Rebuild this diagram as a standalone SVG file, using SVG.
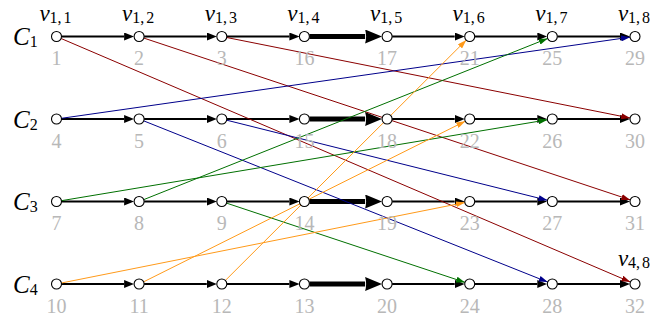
<svg xmlns="http://www.w3.org/2000/svg" width="652" height="322" viewBox="0 0 652 322">
<style>
.nd{fill:#fff;stroke:#000;stroke-width:1.1}
.num{font-family:"Liberation Serif",serif;font-size:20px;fill:#b8b8b8;text-anchor:middle}
.vl{font-family:"Liberation Serif",serif;font-size:23px;font-style:italic;fill:#000;text-anchor:middle}
.sub{font-style:normal;font-size:16px}
.cl{font-family:"Liberation Serif",serif;font-size:25px;font-style:italic;fill:#000}
.bk{stroke:#000;stroke-width:1.8;fill:none;marker-end:url(#ah)}
.tk{stroke:#000;stroke-width:5;fill:none;marker-end:url(#ath)}
.r{stroke:#8b0000;stroke-width:1;fill:none;marker-end:url(#ar)}
.b{stroke:#00008b;stroke-width:1;fill:none;marker-end:url(#ab)}
.g{stroke:#007000;stroke-width:1;fill:none;marker-end:url(#ag)}
.o{stroke:#ff9a1a;stroke-width:1;fill:none;marker-end:url(#ao)}
</style>
<defs>
<marker id="ah" markerUnits="userSpaceOnUse" markerWidth="10" markerHeight="8" refX="0" refY="4" orient="auto"><path d="M0,0 L10,4 L0,8 z" fill="#000"/></marker>
<marker id="ath" markerUnits="userSpaceOnUse" markerWidth="17" markerHeight="14" refX="0" refY="7" orient="auto"><path d="M0,0 L17,7 L0,14 Q2,7 0,0 z" fill="#000"/></marker>
<marker id="ar" markerUnits="userSpaceOnUse" markerWidth="9" markerHeight="6" refX="9" refY="3" orient="auto"><path d="M0,0 L9,3 L0,6 z" fill="#8b0000"/></marker>
<marker id="ab" markerUnits="userSpaceOnUse" markerWidth="9" markerHeight="6" refX="9" refY="3" orient="auto"><path d="M0,0 L9,3 L0,6 z" fill="#00008b"/></marker>
<marker id="ag" markerUnits="userSpaceOnUse" markerWidth="9" markerHeight="6" refX="9" refY="3" orient="auto"><path d="M0,0 L9,3 L0,6 z" fill="#007000"/></marker>
<marker id="ao" markerUnits="userSpaceOnUse" markerWidth="9" markerHeight="6" refX="9" refY="3" orient="auto"><path d="M0,0 L9,3 L0,6 z" fill="#ff9a1a"/></marker>
</defs>

<g id="chain-labels">
<text class="cl" x="13" y="45">C<tspan class="sub" font-size="17" dy="2">1</tspan></text>
<text class="cl" x="13" y="127.5">C<tspan class="sub" font-size="17" dy="2">2</tspan></text>
<text class="cl" x="13" y="210">C<tspan class="sub" font-size="17" dy="2">3</tspan></text>
<text class="cl" x="13" y="292.5">C<tspan class="sub" font-size="17" dy="2">4</tspan></text>
</g>

<g id="connectors">
<!-- row 1 -->
<line class="bk" x1="61.5" y1="36.5" x2="124.1" y2="36.5"/>
<line class="bk" x1="144.1" y1="36.5" x2="206.8" y2="36.5"/>
<line class="bk" x1="226.8" y1="36.5" x2="289.4" y2="36.5"/>
<line class="tk" x1="309.4" y1="36.5" x2="365.1" y2="36.5"/>
<line class="bk" x1="392.1" y1="36.5" x2="454.7" y2="36.5"/>
<line class="bk" x1="474.7" y1="36.5" x2="537.3" y2="36.5"/>
<line class="bk" x1="557.3" y1="36.5" x2="620.0" y2="36.5"/>
<!-- row 2 -->
<line class="bk" x1="61.5" y1="119" x2="124.1" y2="119"/>
<line class="bk" x1="144.1" y1="119" x2="206.8" y2="119"/>
<line class="bk" x1="226.8" y1="119" x2="289.4" y2="119"/>
<line class="tk" x1="309.4" y1="119" x2="365.1" y2="119"/>
<line class="bk" x1="392.1" y1="119" x2="454.7" y2="119"/>
<line class="bk" x1="474.7" y1="119" x2="537.3" y2="119"/>
<line class="bk" x1="557.3" y1="119" x2="620.0" y2="119"/>
<!-- row 3 -->
<line class="bk" x1="61.5" y1="201.5" x2="124.1" y2="201.5"/>
<line class="bk" x1="144.1" y1="201.5" x2="206.8" y2="201.5"/>
<line class="bk" x1="226.8" y1="201.5" x2="289.4" y2="201.5"/>
<line class="tk" x1="309.4" y1="201.5" x2="365.1" y2="201.5"/>
<line class="bk" x1="392.1" y1="201.5" x2="454.7" y2="201.5"/>
<line class="bk" x1="474.7" y1="201.5" x2="537.3" y2="201.5"/>
<line class="bk" x1="557.3" y1="201.5" x2="620.0" y2="201.5"/>
<!-- row 4 -->
<line class="bk" x1="61.5" y1="284" x2="124.1" y2="284"/>
<line class="bk" x1="144.1" y1="284" x2="206.8" y2="284"/>
<line class="bk" x1="226.8" y1="284" x2="289.4" y2="284"/>
<line class="tk" x1="309.4" y1="284" x2="365.1" y2="284"/>
<line class="bk" x1="392.1" y1="284" x2="454.7" y2="284"/>
<line class="bk" x1="474.7" y1="284" x2="537.3" y2="284"/>
<line class="bk" x1="557.3" y1="284" x2="620.0" y2="284"/>
<!-- cross edges -->
<line class="r" x1="61.1" y1="38.5" x2="630.4" y2="282.0"/>
<line class="r" x1="143.9" y1="38.1" x2="630.3" y2="199.9"/>
<line class="r" x1="226.7" y1="37.5" x2="630.1" y2="118.0"/>
<line class="b" x1="61.5" y1="118.3" x2="630.0" y2="37.2"/>
<line class="b" x1="143.8" y1="120.9" x2="547.8" y2="282.1"/>
<line class="b" x1="226.7" y1="120.2" x2="547.5" y2="200.3"/>
<line class="g" x1="61.4" y1="200.7" x2="547.5" y2="119.8"/>
<line class="g" x1="143.8" y1="199.6" x2="547.8" y2="38.4"/>
<line class="g" x1="226.5" y1="203.1" x2="465.1" y2="282.4"/>
<line class="o" x1="61.4" y1="283.0" x2="464.9" y2="202.5"/>
<line class="o" x1="143.7" y1="281.8" x2="465.3" y2="121.2"/>
<line class="o" x1="225.3" y1="280.5" x2="466.3" y2="40.0"/>
</g>

<!-- row 1 nodes -->
<g id="n1"><circle class="nd" cx="56.5" cy="36.5" r="5"/><text class="num" x="56.5" y="65">1</text><text class="vl" x="55.5" y="21">v<tspan class="sub" dy="2">1,<tspan dx="2">1</tspan></tspan></text></g>
<g id="n2"><circle class="nd" cx="139.1" cy="36.5" r="5"/><text class="num" x="139.1" y="65">2</text><text class="vl" x="138.1" y="21">v<tspan class="sub" dy="2">1,<tspan dx="2">2</tspan></tspan></text></g>
<g id="n3"><circle class="nd" cx="221.8" cy="36.5" r="5"/><text class="num" x="221.8" y="65">3</text><text class="vl" x="220.8" y="21">v<tspan class="sub" dy="2">1,<tspan dx="2">3</tspan></tspan></text></g>
<g id="n16"><circle class="nd" cx="304.4" cy="36.5" r="5"/><text class="num" x="304.4" y="65">16</text><text class="vl" x="303.4" y="21">v<tspan class="sub" dy="2">1,<tspan dx="2">4</tspan></tspan></text></g>
<g id="n17"><circle class="nd" cx="387.1" cy="36.5" r="5"/><text class="num" x="387.1" y="65">17</text><text class="vl" x="386.1" y="21">v<tspan class="sub" dy="2">1,<tspan dx="2">5</tspan></tspan></text></g>
<g id="n21"><circle class="nd" cx="469.7" cy="36.5" r="5"/><text class="num" x="469.7" y="65">21</text><text class="vl" x="468.7" y="21">v<tspan class="sub" dy="2">1,<tspan dx="2">6</tspan></tspan></text></g>
<g id="n25"><circle class="nd" cx="552.3" cy="36.5" r="5"/><text class="num" x="552.3" y="65">25</text><text class="vl" x="551.3" y="21">v<tspan class="sub" dy="2">1,<tspan dx="2">7</tspan></tspan></text></g>
<g id="n29"><circle class="nd" cx="635" cy="36.5" r="5"/><text class="num" x="635" y="65">29</text><text class="vl" x="634" y="21">v<tspan class="sub" dy="2">1,<tspan dx="2">8</tspan></tspan></text></g>
<!-- row 2 nodes -->
<g id="n4"><circle class="nd" cx="56.5" cy="119" r="5"/><text class="num" x="56.5" y="147.5">4</text></g>
<g id="n5"><circle class="nd" cx="139.1" cy="119" r="5"/><text class="num" x="139.1" y="147.5">5</text></g>
<g id="n6"><circle class="nd" cx="221.8" cy="119" r="5"/><text class="num" x="221.8" y="147.5">6</text></g>
<g id="n15"><circle class="nd" cx="304.4" cy="119" r="5"/><text class="num" x="304.4" y="147.5">15</text></g>
<g id="n18"><circle class="nd" cx="387.1" cy="119" r="5"/><text class="num" x="387.1" y="147.5">18</text></g>
<g id="n22"><circle class="nd" cx="469.7" cy="119" r="5"/><text class="num" x="469.7" y="147.5">22</text></g>
<g id="n26"><circle class="nd" cx="552.3" cy="119" r="5"/><text class="num" x="552.3" y="147.5">26</text></g>
<g id="n30"><circle class="nd" cx="635" cy="119" r="5"/><text class="num" x="635" y="147.5">30</text></g>
<!-- row 3 nodes -->
<g id="n7"><circle class="nd" cx="56.5" cy="201.5" r="5"/><text class="num" x="56.5" y="230">7</text></g>
<g id="n8"><circle class="nd" cx="139.1" cy="201.5" r="5"/><text class="num" x="139.1" y="230">8</text></g>
<g id="n9"><circle class="nd" cx="221.8" cy="201.5" r="5"/><text class="num" x="221.8" y="230">9</text></g>
<g id="n14"><circle class="nd" cx="304.4" cy="201.5" r="5"/><text class="num" x="304.4" y="230">14</text></g>
<g id="n19"><circle class="nd" cx="387.1" cy="201.5" r="5"/><text class="num" x="387.1" y="230">19</text></g>
<g id="n23"><circle class="nd" cx="469.7" cy="201.5" r="5"/><text class="num" x="469.7" y="230">23</text></g>
<g id="n27"><circle class="nd" cx="552.3" cy="201.5" r="5"/><text class="num" x="552.3" y="230">27</text></g>
<g id="n31"><circle class="nd" cx="635" cy="201.5" r="5"/><text class="num" x="635" y="230">31</text></g>
<!-- row 4 nodes -->
<g id="n10"><circle class="nd" cx="56.5" cy="284" r="5"/><text class="num" x="56.5" y="312.5">10</text></g>
<g id="n11"><circle class="nd" cx="139.1" cy="284" r="5"/><text class="num" x="139.1" y="312.5">11</text></g>
<g id="n12"><circle class="nd" cx="221.8" cy="284" r="5"/><text class="num" x="221.8" y="312.5">12</text></g>
<g id="n13"><circle class="nd" cx="304.4" cy="284" r="5"/><text class="num" x="304.4" y="312.5">13</text></g>
<g id="n20"><circle class="nd" cx="387.1" cy="284" r="5"/><text class="num" x="387.1" y="312.5">20</text></g>
<g id="n24"><circle class="nd" cx="469.7" cy="284" r="5"/><text class="num" x="469.7" y="312.5">24</text></g>
<g id="n28"><circle class="nd" cx="552.3" cy="284" r="5"/><text class="num" x="552.3" y="312.5">28</text></g>
<g id="n32"><circle class="nd" cx="635" cy="284" r="5"/><text class="num" x="635" y="312.5">32</text><text class="vl" x="634" y="266">v<tspan class="sub" dy="2">4,<tspan dx="2">8</tspan></tspan></text></g>
</svg>
